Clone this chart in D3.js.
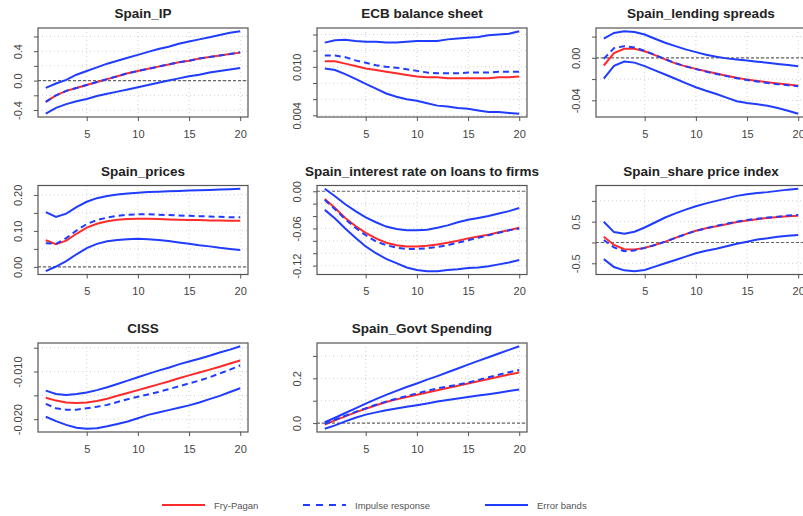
<!DOCTYPE html>
<html>
<head>
<meta charset="utf-8">
<script src="https://cdn.jsdelivr.net/npm/d3@7"></script>
<style>
  body { margin: 0; background: #fff; }
  svg { display: block; font-family: "Liberation Sans", Arial, Helvetica, sans-serif; }
</style>
</head>
<body>
<div id="chart"></div>
<script>
// horizons 1..20
const horizons = d3.range(1, 21);

const titles = ["Spain_IP", "ECB balance sheet", "Spain_lending spreads", "Spain_prices",
  "Spain_interest rate on loans to firms", "Spain_share price index", "CISS", "Spain_Govt Spending"];

// Spain_IP
const ipUpper = [-0.10,-0.04,0.01,0.08,0.13,0.18,0.23,0.27,0.31,0.35,0.39,0.43,0.46,0.50,0.53,0.56,0.59,0.62,0.65,0.67];
const ipFp    = [-0.29,-0.20,-0.14,-0.10,-0.06,-0.02,0.02,0.06,0.10,0.13,0.16,0.19,0.22,0.25,0.27,0.30,0.32,0.34,0.36,0.38];
const ipIrf   = [-0.29,-0.20,-0.14,-0.10,-0.06,-0.02,0.02,0.06,0.10,0.13,0.16,0.19,0.22,0.25,0.27,0.30,0.32,0.34,0.36,0.385];
const ipLower = [-0.45,-0.37,-0.32,-0.28,-0.25,-0.21,-0.18,-0.15,-0.12,-0.09,-0.06,-0.03,0.00,0.03,0.06,0.08,0.11,0.13,0.15,0.17];

// ECB balance sheet
const ecbUpper = [0.0130,0.0133,0.01335,0.0132,0.0131,0.0131,0.0130,0.0130,0.0131,0.0132,0.0132,0.0132,0.0134,0.0135,0.0136,0.0137,0.0139,0.0140,0.0141,0.0144];
const ecbFp    = [0.0107,0.0107,0.0104,0.0101,0.0098,0.0096,0.0094,0.0092,0.0090,0.0088,0.0087,0.0087,0.0086,0.0086,0.0086,0.0086,0.0086,0.0087,0.0087,0.0088];
const ecbIrf   = [0.0114,0.0114,0.0112,0.0108,0.0105,0.0102,0.0100,0.0099,0.0097,0.0095,0.0093,0.0092,0.0092,0.0092,0.0093,0.0093,0.0093,0.0094,0.0094,0.0094];
const ecbLower = [0.0098,0.0096,0.0091,0.0085,0.0079,0.0073,0.0067,0.0063,0.0060,0.0058,0.0055,0.0052,0.0051,0.0049,0.0048,0.0046,0.0044,0.0044,0.0043,0.0042];

// Spain_lending spreads
const lsUpper = [0.018,0.0235,0.025,0.0243,0.022,0.018,0.0142,0.0110,0.0080,0.0054,0.0030,0.0010,-0.0005,-0.0016,-0.0026,-0.0036,-0.0046,-0.0058,-0.0068,-0.0079];
const lsFp    = [-0.0072,0.0045,0.0085,0.0085,0.0062,0.0025,-0.0015,-0.0052,-0.0080,-0.0104,-0.0127,-0.0148,-0.0168,-0.0188,-0.0205,-0.0218,-0.0230,-0.0242,-0.0252,-0.0262];
const lsIrf   = [-0.0010,0.0092,0.0110,0.0098,0.0066,0.0028,-0.0013,-0.0050,-0.0080,-0.0106,-0.0130,-0.0152,-0.0172,-0.0192,-0.0209,-0.0223,-0.0236,-0.0248,-0.0258,-0.0268];
const lsLower = [-0.0195,-0.0075,-0.0035,-0.0045,-0.0078,-0.0118,-0.0157,-0.0197,-0.0238,-0.0277,-0.0310,-0.0340,-0.0375,-0.0408,-0.0425,-0.0438,-0.0452,-0.0472,-0.0498,-0.0526];

// Spain_prices
const prUpper = [0.152,0.139,0.148,0.166,0.181,0.191,0.197,0.201,0.204,0.206,0.208,0.209,0.210,0.211,0.212,0.213,0.214,0.215,0.216,0.217];
const prFp    = [0.074,0.063,0.073,0.092,0.109,0.120,0.127,0.131,0.133,0.134,0.134,0.133,0.132,0.131,0.130,0.130,0.129,0.129,0.128,0.128];
const prIrf   = [0.066,0.064,0.080,0.101,0.119,0.130,0.137,0.142,0.145,0.146,0.146,0.145,0.144,0.143,0.142,0.141,0.140,0.139,0.138,0.138];
const prLower = [-0.012,0.001,0.016,0.035,0.052,0.064,0.071,0.075,0.077,0.078,0.077,0.075,0.072,0.068,0.064,0.060,0.057,0.053,0.050,0.047];

// Spain_interest rate on loans to firms
const irUpper = [0.004,-0.008,-0.021,-0.032,-0.042,-0.050,-0.057,-0.061,-0.063,-0.063,-0.062,-0.059,-0.055,-0.050,-0.046,-0.043,-0.040,-0.036,-0.032,-0.027];
const irFp    = [-0.0125,-0.027,-0.043,-0.056,-0.067,-0.076,-0.083,-0.087,-0.089,-0.089,-0.088,-0.086,-0.083,-0.080,-0.076,-0.073,-0.070,-0.066,-0.063,-0.059];
const irIrf   = [-0.014,-0.029,-0.045,-0.059,-0.071,-0.081,-0.087,-0.091,-0.093,-0.093,-0.092,-0.090,-0.087,-0.083,-0.079,-0.075,-0.071,-0.067,-0.063,-0.060];
const irLower = [-0.030,-0.044,-0.060,-0.075,-0.089,-0.100,-0.109,-0.116,-0.123,-0.127,-0.129,-0.129,-0.127,-0.126,-0.124,-0.123,-0.121,-0.118,-0.115,-0.111];

// Spain_share price index
const spUpper = [0.50,0.25,0.21,0.26,0.36,0.48,0.60,0.70,0.79,0.87,0.94,1.00,1.06,1.12,1.16,1.19,1.21,1.24,1.27,1.29];
const spFp    = [0.14,-0.06,-0.16,-0.17,-0.13,-0.06,0.02,0.11,0.20,0.28,0.34,0.39,0.44,0.49,0.53,0.56,0.59,0.61,0.63,0.64];
const spIrf   = [0.06,-0.12,-0.21,-0.19,-0.13,-0.06,0.02,0.11,0.20,0.28,0.34,0.40,0.45,0.50,0.54,0.57,0.60,0.62,0.65,0.66];
const spLower = [-0.40,-0.59,-0.67,-0.69,-0.66,-0.58,-0.50,-0.42,-0.34,-0.26,-0.20,-0.15,-0.09,-0.03,0.02,0.07,0.10,0.14,0.16,0.18];

// CISS
const cissUpper = [-0.0140,-0.0147,-0.0149,-0.0147,-0.0144,-0.0139,-0.0133,-0.0126,-0.0119,-0.0112,-0.0105,-0.0098,-0.0092,-0.0085,-0.0079,-0.0073,-0.0067,-0.0060,-0.0054,-0.0047];
const cissFp    = [-0.0155,-0.0161,-0.0165,-0.0166,-0.0165,-0.0162,-0.0157,-0.0151,-0.0145,-0.0139,-0.0133,-0.0127,-0.0121,-0.0114,-0.0108,-0.0102,-0.0096,-0.0090,-0.0083,-0.0077];
const cissIrf   = [-0.0168,-0.0177,-0.0180,-0.0180,-0.0177,-0.0174,-0.0170,-0.0164,-0.0158,-0.0153,-0.0148,-0.0143,-0.0137,-0.0131,-0.0125,-0.0119,-0.0112,-0.0104,-0.0096,-0.0087];
const cissLower = [-0.0195,-0.0204,-0.0212,-0.0218,-0.0220,-0.0219,-0.0215,-0.0210,-0.0205,-0.0198,-0.0191,-0.0186,-0.0181,-0.0176,-0.0171,-0.0165,-0.0158,-0.0151,-0.0143,-0.0135];

// Spain_Govt Spending
const gsUpper = [0.004,0.024,0.045,0.066,0.087,0.107,0.126,0.144,0.161,0.177,0.194,0.210,0.227,0.244,0.261,0.278,0.294,0.311,0.327,0.343];
const gsFp    = [-0.007,0.012,0.030,0.048,0.064,0.080,0.094,0.106,0.117,0.127,0.137,0.147,0.157,0.167,0.177,0.187,0.197,0.207,0.217,0.226];
const gsIrf   = [-0.003,0.015,0.033,0.050,0.066,0.082,0.096,0.109,0.121,0.133,0.144,0.155,0.163,0.172,0.181,0.193,0.205,0.216,0.227,0.237];
const gsLower = [-0.025,-0.010,0.008,0.024,0.038,0.048,0.057,0.065,0.073,0.080,0.088,0.096,0.103,0.110,0.117,0.123,0.129,0.136,0.143,0.150];

// axis ticks
const xTicks = [5, 10, 15, 20];
const yTicks = [
  [-0.4, -0.2, 0, 0.2, 0.4, 0.6],
  [0.004, 0.006, 0.008, 0.010, 0.012, 0.014],
  [-0.04, -0.02, 0, 0.02],
  [0, 0.05, 0.10, 0.15, 0.20],
  [-0.12, -0.10, -0.08, -0.06, -0.04, -0.02, 0],
  [-0.5, 0, 0.5, 1.0],
  [-0.020, -0.015, -0.010, -0.005],
  [0, 0.1, 0.2, 0.3]
];
const yTickLabels = [
  ["-0.4", "", "0.0", "", "0.4", ""],
  ["0.004", "", "", "0.010", "", ""],
  ["-0.04", "", "0.00", ""],
  ["0.00", "", "0.10", "", "0.20"],
  ["-0.12", "", "", "-0.06", "", "", "0.00"],
  ["-0.5", "", "0.5", ""],
  ["-0.020", "", "-0.010", ""],
  ["0.0", "", "0.2", ""]
];

const legendLabels = ["Fry-Pagan", "Impulse response", "Error bands"];

const series = [
  [ipUpper, ipFp, ipIrf, ipLower],
  [ecbUpper, ecbFp, ecbIrf, ecbLower],
  [lsUpper, lsFp, lsIrf, lsLower],
  [prUpper, prFp, prIrf, prLower],
  [irUpper, irFp, irIrf, irLower],
  [spUpper, spFp, spIrf, spLower],
  [cissUpper, cissFp, cissIrf, cissLower],
  [gsUpper, gsFp, gsIrf, gsLower]
];

const W = 803, H = 516;
const RED = "#ff2a2a", BLUE = "#1f3cff";
const panelW = 210, panelH = 89;

const svg = d3.select("#chart").append("svg")
  .attr("width", W)
  .attr("height", H);

// R style 4% range extension
function padDomain(lo, hi) {
  const d = (hi - lo) * 0.04;
  return [lo - d, hi + d];
}

series.forEach((s, i) => {
  const col = i % 3, row = Math.floor(i / 3);
  const left = 38 + col * 279;
  const top = 28 + row * 157.5;

  const g = svg.append("g").attr("transform", `translate(${left},${top})`);

  const x = d3.scaleLinear().domain(padDomain(1, 20)).range([0, panelW]);
  const all = s.flat();
  const y = d3.scaleLinear().domain(padDomain(d3.min(all), d3.max(all))).range([panelH, 0]);

  // grid
  g.append("g").selectAll("line.gy")
    .data(yTicks[i])
    .enter().append("line")
    .attr("x1", 0).attr("x2", panelW)
    .attr("y1", d => y(d)).attr("y2", d => y(d))
    .attr("stroke", "#d0d0d0").attr("stroke-dasharray", "1,3");
  g.append("g").selectAll("line.gx")
    .data(xTicks)
    .enter().append("line")
    .attr("y1", 0).attr("y2", panelH)
    .attr("x1", d => x(d)).attr("x2", d => x(d))
    .attr("stroke", "#d0d0d0").attr("stroke-dasharray", "1,3");

  // zero line
  const [ylo, yhi] = y.domain();
  if (ylo < 0 && yhi > 0) {
    g.append("line")
      .attr("x1", 0).attr("x2", panelW)
      .attr("y1", y(0)).attr("y2", y(0))
      .attr("stroke", "#666").attr("stroke-width", 1.2)
      .attr("stroke-dasharray", "3,2");
  }

  const line = d3.line().x((d, k) => x(horizons[k])).y(d => y(d));

  // error bands
  [s[0], s[3]].forEach(band => {
    g.append("path").datum(band)
      .attr("d", line).attr("fill", "none")
      .attr("stroke", BLUE).attr("stroke-width", 2);
  });
  // Fry-Pagan
  g.append("path").datum(s[1])
    .attr("d", line).attr("fill", "none")
    .attr("stroke", RED).attr("stroke-width", 2);
  // impulse response
  g.append("path").datum(s[2])
    .attr("d", line).attr("fill", "none")
    .attr("stroke", BLUE).attr("stroke-width", 2)
    .attr("stroke-dasharray", "6,4");

  // box
  g.append("rect")
    .attr("width", panelW).attr("height", panelH)
    .attr("fill", "none").attr("stroke", "#555").attr("stroke-width", 1.2);

  // axes
  const xAxis = g.append("g")
    .attr("transform", `translate(0,${panelH})`)
    .call(d3.axisBottom(x).tickValues(xTicks).tickSize(4).tickPadding(9));
  const yAxis = g.append("g")
    .call(d3.axisLeft(y).tickValues(yTicks[i]).tickSize(4)
      .tickFormat((d, k) => yTickLabels[i][k]));

  [xAxis, yAxis].forEach(a => {
    a.select(".domain").remove();
    a.selectAll(".tick line").attr("stroke", "#555");
    a.selectAll(".tick text")
      .attr("fill", "#444")
      .style("font-size", "11px")
      .style("font-family", "\"Liberation Sans\", Arial, sans-serif");
  });
  yAxis.selectAll(".tick text")
    .attr("transform", "rotate(-90)")
    .attr("x", 0).attr("y", -16).attr("dy", 0)
    .attr("text-anchor", "middle");

  // title
  g.append("text")
    .attr("x", panelW / 2).attr("y", -10)
    .attr("text-anchor", "middle")
    .style("font-size", "13.5px")
    .style("font-weight", "bold")
    .attr("fill", "#222")
    .text(titles[i]);
});

// legend
const legendX = [162, 303, 485];
const legend = svg.append("g").attr("transform", "translate(0,505)");
legendLabels.forEach((lab, i) => {
  const lx = legendX[i];
  legend.append("line")
    .attr("x1", lx).attr("x2", lx + 43)
    .attr("y1", 0).attr("y2", 0)
    .attr("stroke", i === 0 ? RED : BLUE)
    .attr("stroke-width", 2)
    .attr("stroke-dasharray", i === 1 ? "7,6" : null);
  legend.append("text")
    .attr("x", lx + 52).attr("y", 3.5)
    .style("font-size", "9.5px")
    .attr("fill", "#555")
    .text(lab);
});
</script>
</body>
</html>
